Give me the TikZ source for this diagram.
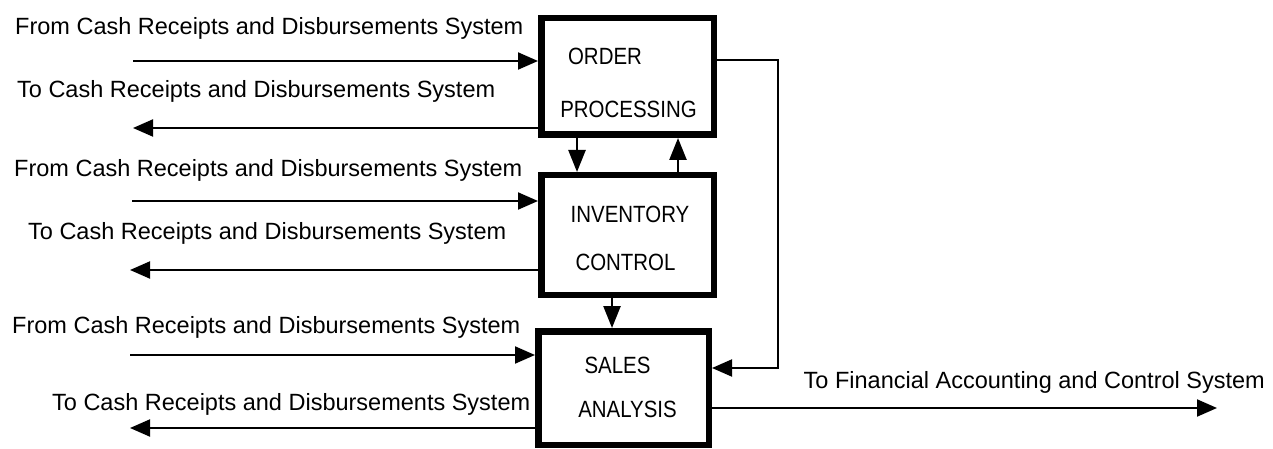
\documentclass[tikz,border=0pt]{standalone}
\usepackage{fontspec}
\setmainfont{Liberation Sans}
\usepackage{graphicx}
\usetikzlibrary{arrows.meta,calc}
\tikzset{
  box/.style={draw, line width=6.5pt, inner sep=0pt},
  lbl/.style={anchor=base west, inner sep=0pt, font=\fontsize{23.5}{28}\selectfont},
  blbl/.style={anchor=base, inner sep=0pt, font=\fontsize{23.5}{28}\selectfont},
  arr/.style={line width=2pt, -{Triangle[length=20pt,width=17pt]}},
  varr/.style={line width=2.5pt, -{Triangle[length=22pt,width=17pt]}},
}
\newcommand{\bx}[1]{\scalebox{0.87}[1]{#1}}
\begin{document}
\begin{tikzpicture}[x=1pt,y=-1pt]
\useasboundingbox (0,0) rectangle (1273,449);
% boxes
\node[box, minimum width=172.5pt, minimum height=116.5pt] (order) at (627.5,76.5) {};
\node[box, minimum width=172.5pt, minimum height=119.5pt] (inv) at (627.5,235) {};
\node[box, minimum width=170.5pt, minimum height=113.5pt] (sales) at (623.5,388) {};
% box texts
\node[blbl] (t1) at (605,65) {\bx{ORDER}};
\node[blbl] (t2) at (628.5,118) {\bx{PROCESSING}};
\node[blbl] (t3) at (630,222) {\bx{INVENTORY}};
\node[blbl] (t4) at (625.5,270) {\bx{CONTROL}};
\node[blbl] (t5) at (617.5,373) {\bx{SALES}};
\node[blbl] (t6) at (627.5,417) {\bx{ANALYSIS}};
% side labels
\node[lbl] (f1) at (15,35) {From Cash Receipts and Disbursements System};
\node[lbl] (g1) at (17,98) {To Cash Receipts and Disbursements System};
\node[lbl] (f2) at (14,177) {From Cash Receipts and Disbursements System};
\node[lbl] (g2) at (28,239) {To Cash Receipts and Disbursements System};
\node[lbl] (f3) at (12,333) {From Cash Receipts and Disbursements System};
\node[lbl] (g3) at (52,410) {To Cash Receipts and Disbursements System};
\node[lbl, anchor=base east] (fin) at (1265,388) {To Financial Accounting and Control System};
% free ends
\coordinate (i1) at (133,61);
\coordinate (o1) at (133,128);
\coordinate (i2) at (132,201);
\coordinate (o2) at (130,270);
\coordinate (i3) at (130,355);
\coordinate (o3) at (130,428);
\coordinate (fb) at (778,368);
\coordinate (out) at (1217,408);
% connectors
\draw[arr] (i1) -- (i1 -| order.west);
\draw[arr] (o1 -| order.west) -- (o1);
\draw[arr] (i2) -- (i2 -| inv.west);
\draw[arr] (o2 -| inv.west) -- (o2);
\draw[arr] (i3) -- (i3 -| sales.west);
\draw[arr] (o3 -| sales.west) -- (o3);
\draw[varr] ([xshift=-50.5pt]order.south) -- ([xshift=-50.5pt]inv.north);
\draw[varr] ([xshift=50.5pt]inv.north) -- ([xshift=50.5pt]order.south);
\draw[varr] ([xshift=-15.5pt]inv.south) -- ([xshift=-15.5pt]inv.south |- sales.north);
\draw[arr] ([yshift=16.5pt]order.east) -| (fb) -- (fb -| sales.east);
\draw[arr] (out -| sales.east) -- (out);
\end{tikzpicture}
\end{document}
